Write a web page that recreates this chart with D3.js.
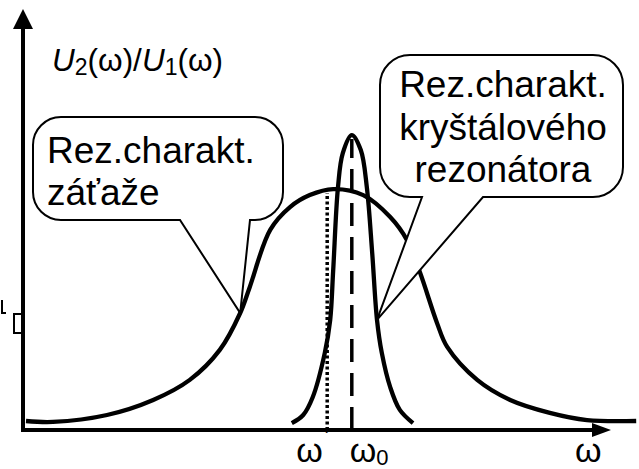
<!DOCTYPE html>
<html lang="sk">
<head>
<meta charset="UTF-8">
<title>Rezonančné charakteristiky</title>
<script src="https://d3js.org/d3.v7.min.js"></script>
<style>
  html, body { margin: 0; padding: 0; background: #fff; }
  svg { display: block; }
  text { font-family: "Liberation Sans", Arial, sans-serif; fill: #000; }
  .curve { fill: none; stroke: #000; stroke-width: 4.3; }
  .axis { fill: none; stroke: #000; stroke-width: 4; }
  .balloon { fill: #fff; stroke: #000; stroke-width: 2; stroke-linejoin: miter; }
</style>
</head>
<body>
<div id="chart"></div>
<script>
// load characteristic (broad curve), omega in relative units, ratio in %
var loadOmega = [0.5, 5, 14, 21.7, 27.8, 32.8, 36.2, 37.8, 41.2, 44.5, 47.8, 51.7, 56.7, 61.2, 64, 66.2, 69, 70.7, 75.7, 81.2, 87.8, 94, 102.2];
var loadRatio = [3, 2.7, 5, 10, 16.7, 26.7, 39, 47.7, 66.7, 74.3, 78.3, 80.3, 78.3, 71, 63.3, 52.3, 35.7, 27.7, 16.7, 10, 5.7, 3.3, 3];

// crystal resonator characteristic (narrow curve)
var xtalOmega = [44.8, 46.7, 48.3, 50.3, 51.2, 51.7, 52.5, 53.3, 54.8, 56.3, 57.3, 58.2, 59, 59.8, 61.2, 62.8, 65];
var xtalRatio = [2.3, 5, 11, 25.7, 36.7, 53.3, 81, 92.3, 98.3, 93.3, 81, 59, 36.7, 25.7, 14.3, 6.7, 2.3];

// marked frequencies
var omega0 = 54.8, omega0Top = 97;
var omegaP = 50.7, omegaPTop = 79;

var leftLines = ["Rez.charakt.", "záťaže"];
var rightLines = ["Rez.charakt.", "kryštálového", "rezonátora"];

var W = 639, H = 469;

var svg = d3.select("#chart").append("svg")
    .attr("width", W)
    .attr("height", H);

var x = d3.scaleLinear().domain([0, 100]).range([23, 623]);
var y = d3.scaleLinear().domain([0, 100]).range([430, 130]);

var line = d3.line()
    .x(function(d) { return x(d[0]); })
    .y(function(d) { return y(d[1]); })
    .curve(d3.curveCatmullRom.alpha(0.5));

var loadData = loadOmega.map(function(o, i) { return [o, loadRatio[i]]; });
var xtalData = xtalOmega.map(function(o, i) { return [o, xtalRatio[i]]; });

svg.append("path").datum(loadData).attr("class", "curve").attr("d", line);
svg.append("path").datum(xtalData).attr("class", "curve").attr("d", line);

// omega0 dashed, omega' dotted
svg.append("line")
    .attr("x1", x(omega0)).attr("x2", x(omega0))
    .attr("y1", y(0)).attr("y2", y(omega0Top))
    .attr("stroke", "#000").attr("stroke-width", 3.5)
    .attr("stroke-dasharray", "23,11");

svg.append("line")
    .attr("x1", x(omegaP)).attr("x2", x(omegaP))
    .attr("y1", y(0)).attr("y2", y(omegaPTop))
    .attr("stroke", "#000").attr("stroke-width", 3.5)
    .attr("stroke-dasharray", "3,2.5");

// axes with arrows
var ox = x(0), oy = y(0);
svg.append("path").attr("class", "axis")
    .attr("d", "M" + ox + "," + (oy + 2) + "V28");
svg.append("path").attr("class", "axis")
    .attr("d", "M" + (ox - 2) + "," + oy + "H594");
svg.append("path").attr("fill", "#000")
    .attr("d", "M" + ox + ",9L" + (ox - 10) + ",29L" + (ox + 10) + ",29Z");
svg.append("path").attr("fill", "#000")
    .attr("d", "M611," + oy + "L592," + (oy - 7) + "L592," + (oy + 7) + "Z");

// small clipped marks left of the axis
svg.append("path")
    .attr("fill", "none").attr("stroke", "#000").attr("stroke-width", 2)
    .attr("d", "M2,300V313H6M23,314H14V333H23");

// balloons
function balloon(b) {
    var r = b.r;
    return "M" + (b.x0 + r) + "," + b.y0 +
        "H" + (b.x1 - r) +
        "A" + r + "," + r + " 0 0 1 " + b.x1 + "," + (b.y0 + r) +
        "V" + (b.y1 - r) +
        "A" + r + "," + r + " 0 0 1 " + (b.x1 - r) + "," + b.y1 +
        "H" + b.t2 +
        "L" + b.tip[0] + "," + b.tip[1] +
        "L" + b.t1 + "," + b.y1 +
        "H" + (b.x0 + r) +
        "A" + r + "," + r + " 0 0 1 " + b.x0 + "," + (b.y1 - r) +
        "V" + (b.y0 + r) +
        "A" + r + "," + r + " 0 0 1 " + (b.x0 + r) + "," + b.y0 + "Z";
}

var leftTip = [x(loadOmega[6]), y(loadRatio[6])];
var rightTip = [x(xtalOmega[12]), y(xtalRatio[12])];

svg.append("path").attr("class", "balloon")
    .attr("d", balloon({x0: 33, y0: 117, x1: 283, y1: 220, r: 28, t1: 180, t2: 250, tip: leftTip}));
svg.append("path").attr("class", "balloon")
    .attr("d", balloon({x0: 380, y0: 55, x1: 623, y1: 197, r: 30, t1: 422, t2: 483, tip: rightTip}));

svg.append("g").selectAll("text").data(leftLines).join("text")
    .attr("x", 47)
    .attr("y", function(d, i) { return 163 + i * 42; })
    .attr("font-size", 37)
    .text(function(d) { return d; });

svg.append("g").selectAll("text").data(rightLines).join("text")
    .attr("x", 503)
    .attr("y", function(d, i) { return 97 + i * 42.5; })
    .attr("font-size", 37)
    .attr("text-anchor", "middle")
    .text(function(d) { return d; });

// y label U2(w)/U1(w)
var yl = svg.append("text").attr("x", 52).attr("y", 71).attr("font-size", 31.5);
yl.append("tspan").attr("font-style", "italic").text("U");
yl.append("tspan").attr("font-size", 23).attr("dy", 4).text("2");
yl.append("tspan").attr("dy", -4).text("(ω)/");
yl.append("tspan").attr("font-style", "italic").text("U");
yl.append("tspan").attr("font-size", 23).attr("dy", 4).text("1");
yl.append("tspan").attr("dy", -4).text("(ω)");

// x labels
var lp = svg.append("text").attr("x", x(omegaP) - 31).attr("y", 462).attr("font-size", 34);
lp.append("tspan").text("ω");
lp.append("tspan").attr("dx", 2).attr("dy", -14).attr("font-size", 26).text("´");

var l0 = svg.append("text").attr("x", x(omega0) - 2).attr("y", 462).attr("font-size", 34);
l0.append("tspan").text("ω");
l0.append("tspan").attr("font-size", 22).attr("dy", 3).text("0");

svg.append("text").attr("x", 575).attr("y", 462).attr("font-size", 34).text("ω");
</script>
</body>
</html>
